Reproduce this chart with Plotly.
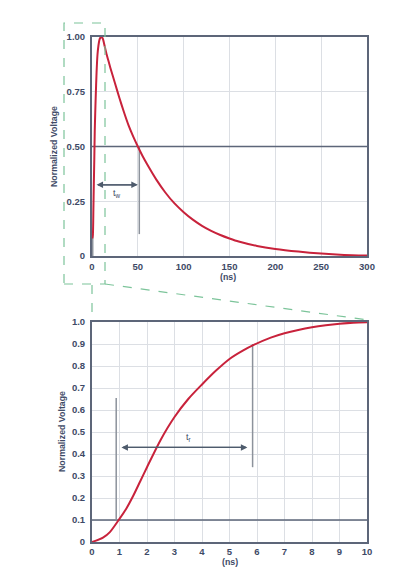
import plotly.graph_objects as go

W, H = 393, 587

# ---- data ----
top_t = [0.4, 1, 1.5, 2, 2.5, 3, 3.5, 4, 5, 6, 7, 8, 9, 10, 11, 12, 14, 16, 18, 20, 25, 30, 35, 40,
         45, 50, 55, 60, 70, 80, 90, 100, 110, 120, 130, 140, 150, 160, 180, 200, 225, 250, 275, 300]
top_v = [0.08, 0.10, 0.21, 0.33, 0.44, 0.57, 0.65, 0.72, 0.84, 0.92, 0.96, 0.985, 0.996, 1.0,
         0.998, 0.99, 0.955, 0.92, 0.89, 0.86, 0.79, 0.72, 0.655, 0.595, 0.545, 0.5, 0.458, 0.42,
         0.35, 0.29, 0.24, 0.2, 0.166, 0.138, 0.115, 0.096, 0.08, 0.066, 0.046, 0.032, 0.02,
         0.011, 0.005, 0.002]

bot_t = [0, 0.4, 0.65, 0.97, 1.24, 1.5, 1.75, 2.0, 2.5, 3.0, 3.5, 4.0, 4.5, 5.0,
         5.5, 5.9, 6.5, 7.0, 7.5, 8.0, 8.5, 9.0, 9.5, 10.0]
bot_v = [0, 0.02, 0.045, 0.1, 0.15, 0.21, 0.275, 0.34, 0.465, 0.568, 0.65, 0.716, 0.778,
         0.832, 0.871, 0.897, 0.929, 0.949, 0.964, 0.976, 0.985, 0.992, 0.997, 0.999]

top_xticks = [0, 50, 100, 150, 200, 250, 300]
top_yticks = [0, 0.25, 0.5, 0.75, 1.0]
top_yticklabels = ["0", "0.25", "0.50", "0.75", "1.00"]
bot_xticks = list(range(0, 11))
bot_yticks = [i / 10 for i in range(0, 11)]
bot_yticklabels = ["0", "0.1", "0.2", "0.3", "0.4", "0.5", "0.6", "0.7", "0.8", "0.9", "1.0"]

RED = "#c8223b"
FRAME = "#5d6679"
GRID = "#dcdfe4"
TXT = "#3e4a66"
GREEN = "#7cc49a"
MARK = "#8c929b"


def px(x):
    return x / W


def py(y):
    return 1 - y / H


fig = go.Figure()
fig.add_trace(go.Scatter(x=top_t, y=top_v, mode="lines",
                         line=dict(color=RED, width=2, shape="spline", smoothing=0.6),
                         xaxis="x", yaxis="y", hoverinfo="skip"))
fig.add_trace(go.Scatter(x=bot_t, y=bot_v, mode="lines",
                         line=dict(color=RED, width=2, shape="spline", smoothing=0.8),
                         xaxis="x2", yaxis="y2", hoverinfo="skip"))

tickfont = dict(family="Liberation Sans, Arial", size=9.5, color=TXT, weight="bold")
common = dict(showline=True, mirror=True, linecolor=FRAME, linewidth=2, gridcolor=GRID,
              gridwidth=1, zeroline=False, ticks="", tickfont=tickfont, fixedrange=True)

fig.update_layout(
    width=W, height=H, margin=dict(l=0, r=0, t=0, b=0, autoexpand=False), autosize=False,
    paper_bgcolor="white", plot_bgcolor="white", showlegend=False,
    xaxis=dict(domain=[px(92), px(367)], range=[0, 300], tickvals=top_xticks, anchor="y",
               ticklabelstandoff=1, **common),
    yaxis=dict(domain=[py(256), py(37)], range=[0, 1.0], tickvals=top_yticks,
               ticktext=top_yticklabels, anchor="x", ticklabelstandoff=3, **common),
    xaxis2=dict(domain=[px(92), px(367)], range=[0, 10], tickvals=bot_xticks, anchor="y2",
                ticklabelstandoff=0, **common),
    yaxis2=dict(domain=[py(542), py(322)], range=[0, 1.0], tickvals=bot_yticks,
                ticktext=bot_yticklabels, anchor="x2", ticklabelstandoff=3, **common),
)

shapes = []
# dark reference lines
shapes.append(dict(type="line", xref="x", yref="y", x0=0, x1=300, y0=0.5, y1=0.5,
                   line=dict(color=FRAME, width=1.6), layer="between"))
shapes.append(dict(type="line", xref="x2", yref="y2", x0=0, x1=10, y0=0.1, y1=0.1,
                   line=dict(color=FRAME, width=1.6), layer="between"))
# marker verticals
shapes.append(dict(type="line", xref="x", yref="y", x0=51.6, x1=51.6, y0=0.1, y1=0.5,
                   line=dict(color=MARK, width=1.5), layer="between"))
shapes.append(dict(type="line", xref="x", yref="y", x0=0.8, x1=0.8, y0=0, y1=0.1,
                   line=dict(color=MARK, width=1.5), layer="between"))
shapes.append(dict(type="line", xref="x2", yref="y2", x0=0.88, x1=0.88, y0=0.1, y1=0.655,
                   line=dict(color=MARK, width=1.5), layer="between"))
shapes.append(dict(type="line", xref="x2", yref="y2", x0=5.84, x1=5.84, y0=0.34, y1=0.9,
                   line=dict(color=MARK, width=1.5), layer="between"))
# green dashed zoom indicator
gd = dict(color=GREEN, width=1.2, dash="dash")
shapes.append(dict(type="rect", xref="paper", yref="paper", x0=px(64), x1=px(105),
                   y0=py(284), y1=py(23), line=gd))
shapes.append(dict(type="line", xref="paper", yref="paper", x0=px(92), x1=px(92),
                   y0=py(285), y1=py(319), line=gd))
shapes.append(dict(type="line", xref="paper", yref="paper", x0=px(105), x1=px(368),
                   y0=py(284), y1=py(320), line=gd))
fig.update_layout(shapes=shapes)

ARR = "#4e5b6c"
ann = []
# t_w arrow (double-headed)
for xa, xb in [(5, 50), (50, 5)]:
    ann.append(dict(x=xb, y=0.325, ax=xa, ay=0.325, xref="x", yref="y", axref="x", ayref="y",
                    showarrow=True, arrowhead=2, arrowsize=1, arrowwidth=1.3, arrowcolor=ARR, text=""))
ann.append(dict(x=27, y=0.285, xref="x", yref="y", text="t<sub>w</sub>", showarrow=False,
                xanchor="center", yanchor="middle",
                font=dict(family="Liberation Sans, Arial", size=9, color=TXT)))
# t_r arrow
for xa, xb in [(1.07, 5.65), (5.65, 1.07)]:
    ann.append(dict(x=xb, y=0.43, ax=xa, ay=0.43, xref="x2", yref="y2", axref="x2", ayref="y2",
                    showarrow=True, arrowhead=2, arrowsize=1, arrowwidth=1.3, arrowcolor=ARR, text=""))
ann.append(dict(x=3.5, y=0.475, xref="x2", yref="y2", text="t<sub>r</sub>", showarrow=False,
                xanchor="center", yanchor="middle",
                font=dict(family="Liberation Sans, Arial", size=9, color=TXT)))

tfont = dict(family="Liberation Sans, Arial", size=8.8, color=TXT, weight="bold")
lab = dict(xref="paper", yref="paper", showarrow=False, font=tfont,
           xanchor="center", yanchor="middle")
ann.append(dict(x=px(54), y=py(147), text="Normalized Voltage", textangle=-90, **lab))
ann.append(dict(x=px(62), y=py(432), text="Normalized Voltage", textangle=-90, **lab))
ann.append(dict(x=px(228), y=py(277), text="(ns)", **lab))
ann.append(dict(x=px(230), y=py(562), text="(ns)", **lab))
fig.update_layout(annotations=ann)

fig.write_html("out.html", config={"responsive": False, "displayModeBar": False},
               post_script="document.body.style.margin='0';document.body.style.overflow='hidden';")
